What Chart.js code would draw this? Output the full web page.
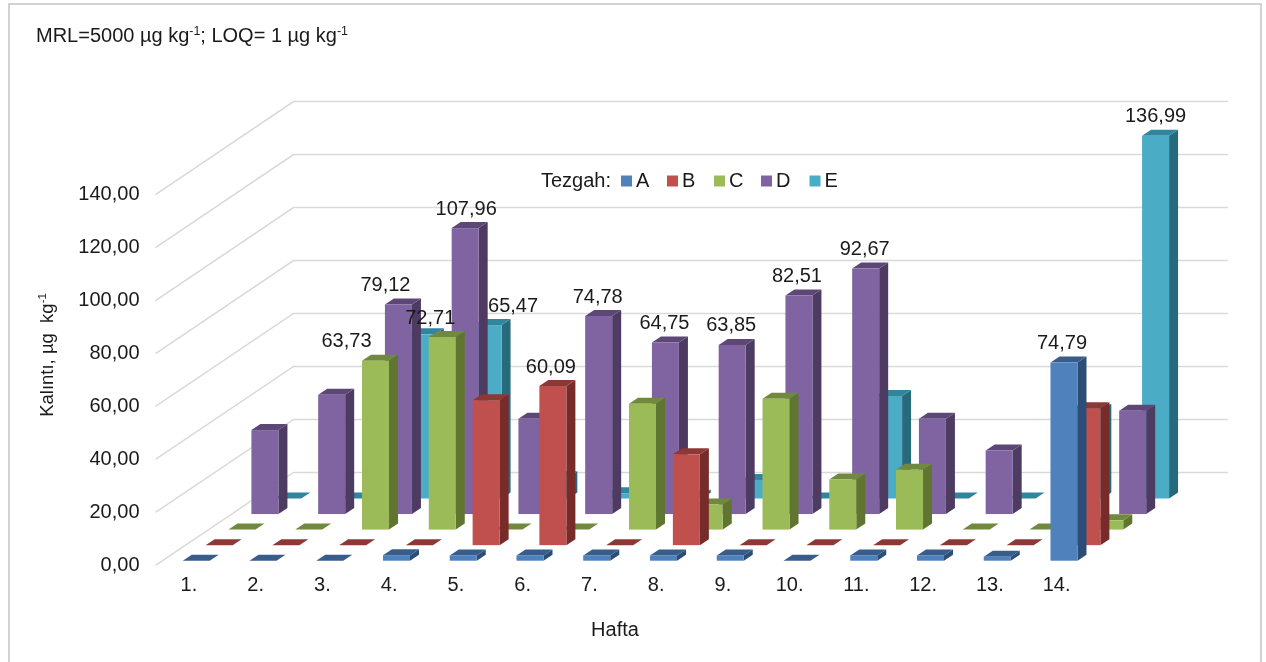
<!DOCTYPE html>
<html lang="tr">
<head>
<meta charset="utf-8">
<title>Kalıntı</title>
<script src="https://cdn.jsdelivr.net/npm/chart.js@4"></script>
<style>
  html, body { margin: 0; background: #fff; }
  canvas { display: block; }
</style>
</head>
<body>
<canvas id="chart" width="1266" height="662"></canvas>
<script>
const weeks = ["1.", "2.", "3.", "4.", "5.", "6.", "7.", "8.", "9.", "10.", "11.", "12.", "13.", "14."];
const yTicks = [0, 20, 40, 60, 80, 100, 120, 140];

const seriesA = [0, 0, 0, 2.1, 2, 2, 2, 2, 2, 0, 2, 2, 1.5, 74.79];
const seriesB = [0, 0, 0, 0, 54.7, 60.09, 0, 34.3, 0, 0, 0, 0, 0, 51.7];
const seriesC = [0, 0, 63.73, 72.71, 0, 0, 47.5, 9.5, 49.4, 18.9, 22.6, 0, 0, 3.5];
const seriesD = [31.7, 45, 79.12, 107.96, 36, 74.78, 64.75, 63.85, 82.51, 92.67, 36, 24, 20, 39];
const seriesE = [0, 0, 62, 65.47, 8, 2, 1, 7, 0, 38.7, 0, 0, 33.4, 136.99];

const seriesNames = ["A", "B", "C", "D", "E"];

// front / side / top faces
const faceColors = [
  ["#4f81bd", "#2c4d75", "#385d8a"],
  ["#c0504d", "#772c2a", "#8c3836"],
  ["#9bbb59", "#5f7530", "#71893f"],
  ["#8064a2", "#4d3b62", "#5c4776"],
  ["#4bacc6", "#276a7c", "#31859c"]
];

// which bars carry a value label, and how far it sits from the bar centre
const labelNudge = {
  "C2": -29, "D2": -13, "C3": -12, "D3": 1, "E3": 25, "B5": -2,
  "D5": -1, "D6": -1, "D7": -1, "D8": -2, "D9": -1, "A13": -2, "E13": 0
};

// fake 3D projection, in pixels
const WALL_DX = 138, WALL_DY = -93;
const SERIES_X0 = 7.35, SERIES_DX = 22.9;
const SERIES_Y0 = -4.7, SERIES_DY = -15.55;
const SIDE_DX = 9, SIDE_DY = -6;

const FONT = '"Liberation Sans", Arial, sans-serif';
const TEXT = "#1a1a1a";

const comma = v => v.toFixed(2).replace(".", ",");

// text with small raised parts: [["kg"], ["-1", true]]
function drawRuns(ctx, runs, x, y, size) {
  runs.forEach(([str, sup]) => {
    ctx.font = `${sup ? size * 0.62 : size}px ${FONT}`;
    ctx.fillText(str, x, sup ? y - size * 0.36 : y);
    x += ctx.measureText(str).width;
  });
}

function runsWidth(ctx, runs, size) {
  return runs.reduce((w, [str, sup]) => {
    ctx.font = `${sup ? size * 0.62 : size}px ${FONT}`;
    return w + ctx.measureText(str).width;
  }, 0);
}

function drawBar(ctx, bar, k, colors) {
  const w = bar.width;
  const x = bar.x - w / 2 + SERIES_X0 + k * SERIES_DX;
  const top = bar.y + SERIES_Y0 + k * SERIES_DY;
  const bottom = bar.base + SERIES_Y0 + k * SERIES_DY;
  const [front, side, cap] = colors;

  ctx.fillStyle = side;
  ctx.beginPath();
  ctx.moveTo(x + w, bottom);
  ctx.lineTo(x + w + SIDE_DX, bottom + SIDE_DY);
  ctx.lineTo(x + w + SIDE_DX, top + SIDE_DY);
  ctx.lineTo(x + w, top);
  ctx.fill();

  ctx.fillStyle = cap;
  ctx.beginPath();
  ctx.moveTo(x, top);
  ctx.lineTo(x + SIDE_DX, top + SIDE_DY);
  ctx.lineTo(x + w + SIDE_DX, top + SIDE_DY);
  ctx.lineTo(x + w, top);
  ctx.fill();

  ctx.fillStyle = front;
  ctx.fillRect(x, top, w, bottom - top);
}

const bars3d = {
  id: "bars3d",
  beforeDraw(chart) {
    const ctx = chart.ctx;
    ctx.save();
    ctx.fillStyle = "#fff";
    ctx.fillRect(0, 0, chart.width, chart.height);
    ctx.strokeStyle = "#d2d2d2";
    ctx.lineWidth = 2;
    ctx.beginPath();
    ctx.moveTo(9, chart.height);
    ctx.lineTo(9, 4);
    ctx.lineTo(1261, 4);
    ctx.lineTo(1261, chart.height);
    ctx.stroke();
    ctx.restore();
  },
  beforeDatasetsDraw(chart) {
    const { ctx, scales: { x, y } } = chart;
    ctx.save();
    ctx.strokeStyle = "#d9d9d9";
    ctx.lineWidth = 1.5;
    y.ticks.forEach(t => {
      const py = y.getPixelForValue(t.value);
      ctx.beginPath();
      ctx.moveTo(x.left, py);
      ctx.lineTo(x.left + WALL_DX, py + WALL_DY);
      ctx.lineTo(x.right + WALL_DX, py + WALL_DY);
      ctx.stroke();
    });
    ctx.restore();
  },
  beforeDatasetDraw(chart, args) {
    const ctx = chart.ctx;
    ctx.save();
    args.meta.data.forEach(bar => drawBar(ctx, bar, args.index, faceColors[args.index]));
    ctx.restore();
    return false;
  },
  afterDatasetsDraw(chart) {
    const ctx = chart.ctx;
    ctx.save();

    // value labels
    ctx.fillStyle = TEXT;
    ctx.font = `20px ${FONT}`;
    ctx.textAlign = "center";
    ctx.textBaseline = "middle";
    chart.data.datasets.forEach((ds, k) => {
      chart.getDatasetMeta(k).data.forEach((bar, i) => {
        const nudge = labelNudge[seriesNames[k] + i];
        if (nudge === undefined) return;
        ctx.fillText(comma(ds.data[i]),
          bar.x + SERIES_X0 + k * SERIES_DX + nudge,
          bar.y + SERIES_Y0 + k * SERIES_DY - 19);
      });
    });

    // legend
    ctx.textAlign = "left";
    ctx.font = `20px ${FONT}`;
    ctx.fillText("Tezgah:", 541, 181);
    [621, 667, 714, 761, 809.5].forEach((lx, k) => {
      ctx.fillStyle = faceColors[k][0];
      ctx.fillRect(lx, 175.5, 11, 11);
      ctx.fillStyle = TEXT;
      ctx.fillText(seriesNames[k], lx + 15, 181);
    });

    // note, axis titles
    ctx.textBaseline = "alphabetic";
    drawRuns(ctx, [["MRL=5000 µg kg"], ["-1", true], ["; LOQ= 1 µg kg"], ["-1", true]], 36, 42, 20);

    const yRuns = [["Kalıntı, µg  kg"], ["-1", true]];
    ctx.save();
    ctx.translate(53, 355 + runsWidth(ctx, yRuns, 18.5) / 2);
    ctx.rotate(-Math.PI / 2);
    drawRuns(ctx, yRuns, 0, 0, 18.5);
    ctx.restore();

    ctx.textAlign = "center";
    ctx.font = `20px ${FONT}`;
    ctx.fillText("Hafta", 615, 636);
    ctx.restore();
  }
};

const allSeries = [seriesA, seriesB, seriesC, seriesD, seriesE];

new Chart(document.getElementById("chart"), {
  type: "bar",
  data: {
    labels: weeks,
    datasets: allSeries.map((data, k) => ({
      label: seriesNames[k],
      data,
      backgroundColor: faceColors[k][0],
      grouped: false,
      categoryPercentage: 1,
      barPercentage: 0.4045
    }))
  },
  options: {
    responsive: false,
    animation: false,
    layout: { padding: { top: 194.6, right: 176, left: 0, bottom: 0 } },
    plugins: { legend: { display: false }, tooltip: { enabled: false } },
    scales: {
      x: {
        grid: { display: false, drawTicks: false },
        border: { display: false },
        ticks: { color: TEXT, font: { family: FONT, size: 20 }, padding: 8, maxRotation: 0, autoSkip: false },
        afterFit(scale) { scale.height = 96.6; }
      },
      y: {
        min: yTicks[0],
        max: yTicks[yTicks.length - 1],
        grid: { display: false, drawTicks: false },
        border: { display: false },
        afterBuildTicks(scale) { scale.ticks = yTicks.map(value => ({ value })); },
        ticks: { color: TEXT, font: { family: FONT, size: 20 }, padding: 16, callback: v => comma(v) },
        afterFit(scale) { scale.width = 155.5; }
      }
    }
  },
  plugins: [bars3d]
});
</script>
</body>
</html>
